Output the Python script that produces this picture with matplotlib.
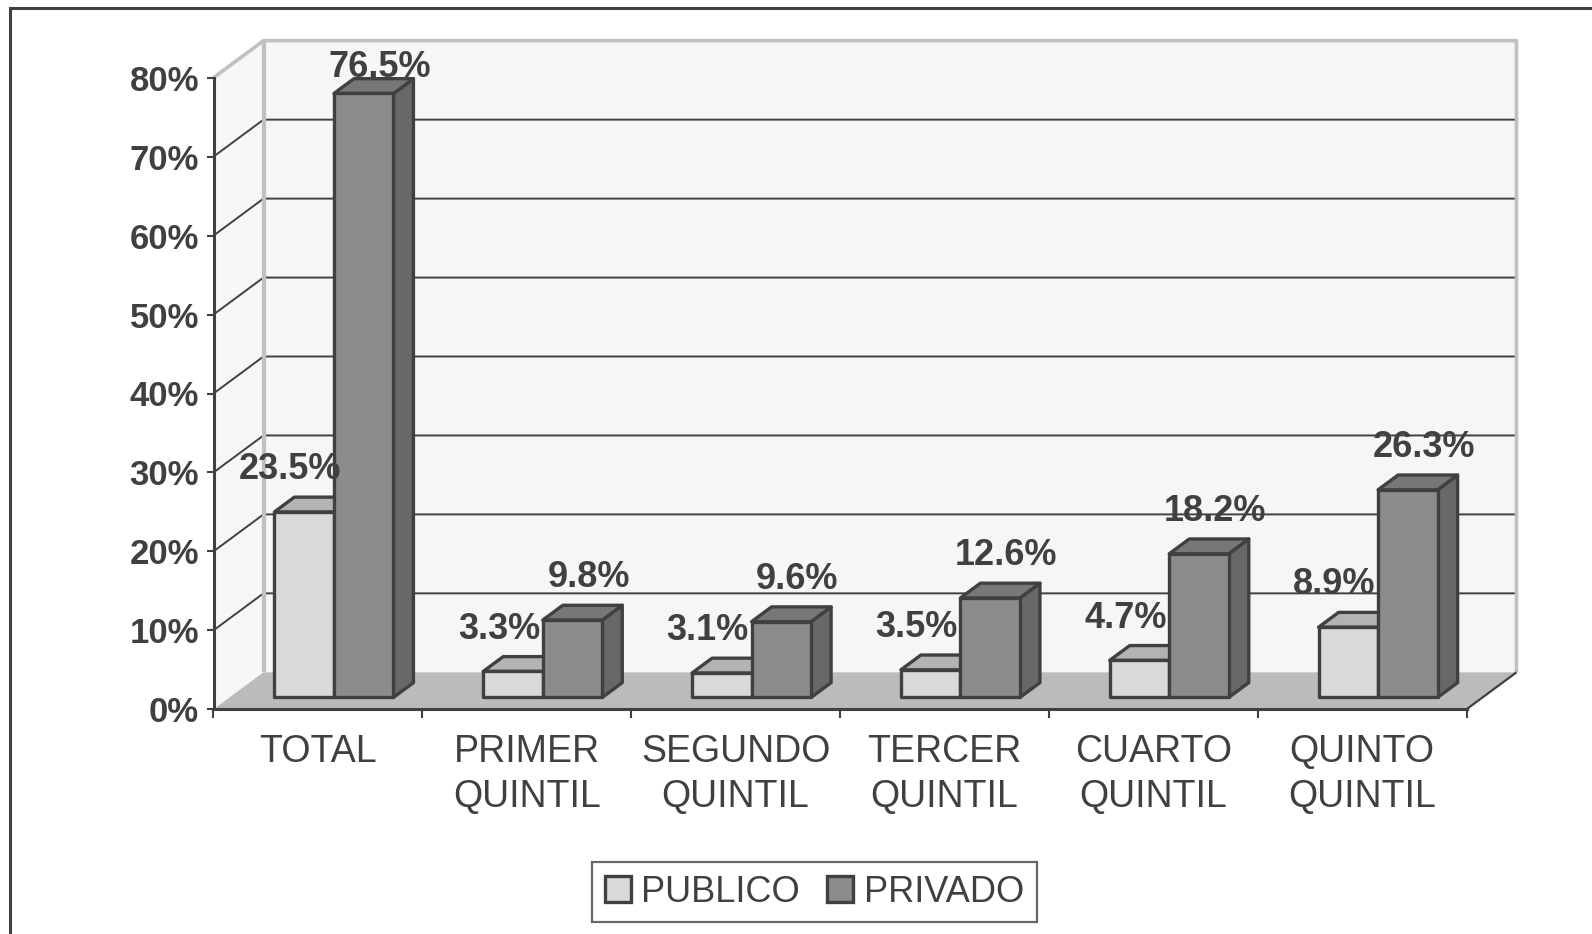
import matplotlib
matplotlib.use('Agg')
import matplotlib.pyplot as plt
from matplotlib.patches import Polygon, Patch, Rectangle
from matplotlib.ticker import FuncFormatter

# data
categories = ['TOTAL', 'PRIMER\nQUINTIL', 'SEGUNDO\nQUINTIL', 'TERCER\nQUINTIL',
              'CUARTO\nQUINTIL', 'QUINTO\nQUINTIL']
publico = [23.5, 3.3, 3.1, 3.5, 4.7, 8.9]
privado = [76.5, 9.8, 9.6, 12.6, 18.2, 26.3]
series_names = ['PUBLICO', 'PRIVADO']
y_ticks = [0, 10, 20, 30, 40, 50, 60, 70, 80]

DARK = '#404040'
WALL = '#f6f6f6'
FLOOR = '#bbbbbb'
FRAME = '#c0c0c0'
# front, top, side colours for each series
PUB_COLS = ('#d9d9d9', '#b3b3b3', '#a0a0a0')
PRI_COLS = ('#8c8c8c', '#777777', '#686868')

plt.rcParams['font.family'] = ['Liberation Sans', 'DejaVu Sans']

W, H = 1592, 934
fig = plt.figure(figsize=(W / 100, H / 100), dpi=100)
# front plane of the 3D box
left, right, bottom, top = 213.5, 1466.5, 709.3, 77.7
ax = fig.add_axes([left / W, 1 - bottom / H, (right - left) / W, (bottom - top) / H])
ax.set_xlim(-0.5, 5.5)
ax.set_ylim(0, 80)
ax.patch.set_visible(False)

# depth of the box in pixels, turned into data units
ppx = (right - left) / 6
ppy = (bottom - top) / 80
DXD, DYD = 50 / ppx, 37 / ppy


def P(x, y, d):
    return (x + d * DXD, y + d * DYD)


def poly(pts, fc, ec='none', lw=0, z=1):
    ax.add_patch(Polygon(pts, closed=True, facecolor=fc, edgecolor=ec, linewidth=lw,
                         joinstyle='round', clip_on=False, zorder=z))


def line(pts, color, lw, z=1):
    xs, ys = zip(*pts)
    ax.plot(xs, ys, color=color, lw=lw, clip_on=False, zorder=z, solid_capstyle='butt')


# walls and floor
poly([P(-0.5, 0, 1), P(5.5, 0, 1), P(5.5, 80, 1), P(-0.5, 80, 1)], WALL, z=0.5)
poly([P(-0.5, 0, 0), P(-0.5, 0, 1), P(-0.5, 80, 1), P(-0.5, 80, 0)], WALL, z=0.5)
poly([P(-0.5, 0, 0), P(5.5, 0, 0), P(5.5, 0, 1), P(-0.5, 0, 1)], FLOOR, z=0.6)

# gridlines on back and side walls
for v in y_ticks[1:-1]:
    line([P(-0.5, v, 0), P(-0.5, v, 1), P(5.5, v, 1)], DARK, 1.4, z=0.7)

# wall frame
line([P(-0.5, 80, 0), P(-0.5, 80, 1), P(5.5, 80, 1), P(5.5, 0, 1)], FRAME, 2.6, z=0.8)
line([P(-0.5, 80, 1), P(-0.5, 0, 1)], FRAME, 3.0, z=0.8)
line([P(5.5, 0, 0), P(5.5, 0, 1)], DARK, 1.6, z=0.9)

# bars
bw = 0.285
d0, d1 = 0.32, 0.72
label_dx = {0: -34, 1: -4}   # pixels, relative to the back top edge centre
for i in range(len(categories)):
    for s, (vals, cols) in enumerate([(publico, PUB_COLS), (privado, PRI_COLS)]):
        v = vals[i]
        x0 = i - bw if s == 0 else i
        x1 = x0 + bw
        z = 2 + i * 0.1 + s * 0.05
        poly([P(x1, 0, d0), P(x1, v, d0), P(x1, v, d1), P(x1, 0, d1)], cols[2], DARK, 2.4, z)
        poly([P(x0, v, d0), P(x1, v, d0), P(x1, v, d1), P(x0, v, d1)], cols[1], DARK, 2.4, z)
        poly([P(x0, 0, d0), P(x1, 0, d0), P(x1, v, d0), P(x0, v, d0)], cols[0], DARK, 2.4, z)
        lift = 18 if v < 70 else 2
        ax.annotate(f'{v:.1f}%', xy=P((x0 + x1) / 2, v, d1),
                    xytext=(label_dx[s] * 0.72, lift * 0.72), textcoords='offset points',
                    ha='center', va='baseline', fontsize=26, fontweight='bold',
                    color=DARK, zorder=5, annotation_clip=False)

# front axes
for side in ['top', 'right']:
    ax.spines[side].set_visible(False)
for side in ['left', 'bottom']:
    ax.spines[side].set_color(DARK)
    ax.spines[side].set_linewidth(2.2)

ax.set_yticks(y_ticks)
ax.yaxis.set_major_formatter(FuncFormatter(lambda v, p: f'{v:.0f}%'))
ax.tick_params(axis='y', direction='out', length=5, width=1.5, color=DARK, pad=5.5,
               labelsize=25, labelcolor=DARK)
for t in ax.get_yticklabels():
    t.set_fontweight('bold')

ax.set_xticks([k - 0.5 for k in range(len(categories) + 1)])
ax.set_xticklabels([])
ax.tick_params(axis='x', which='major', direction='out', length=6.5, width=1.5, color=DARK)
ax.set_xticks(range(len(categories)), labels=categories, minor=True)
ax.tick_params(axis='x', which='minor', length=0, pad=18, labelsize=27, labelcolor=DARK)
for t in ax.get_xticklabels(minor=True):
    t.set_linespacing(1.32)

# legend
handles = [Patch(facecolor=PUB_COLS[0], edgecolor=DARK, linewidth=2.4),
           Patch(facecolor=PRI_COLS[0], edgecolor=DARK, linewidth=2.4)]
leg = fig.legend(handles, series_names, loc='center', bbox_to_anchor=(814.5 / W, 1 - 892 / H),
                 ncol=2, fontsize=26, frameon=True, fancybox=False, handlelength=0.72,
                 handleheight=0.72, handletextpad=0.3, columnspacing=0.75, borderpad=0.35,
                 borderaxespad=0)
leg.get_frame().set_edgecolor(DARK)
leg.get_frame().set_linewidth(1.6)
for t in leg.get_texts():
    t.set_color(DARK)

# outer chart border (runs off the right and bottom edges)
fig.patches.append(Rectangle((10 / W, -0.1), 1.2, 1.1 - 8 / H, transform=fig.transFigure,
                             fill=False, edgecolor=DARK, linewidth=2.2))

fig.savefig('out.png', dpi=100)
